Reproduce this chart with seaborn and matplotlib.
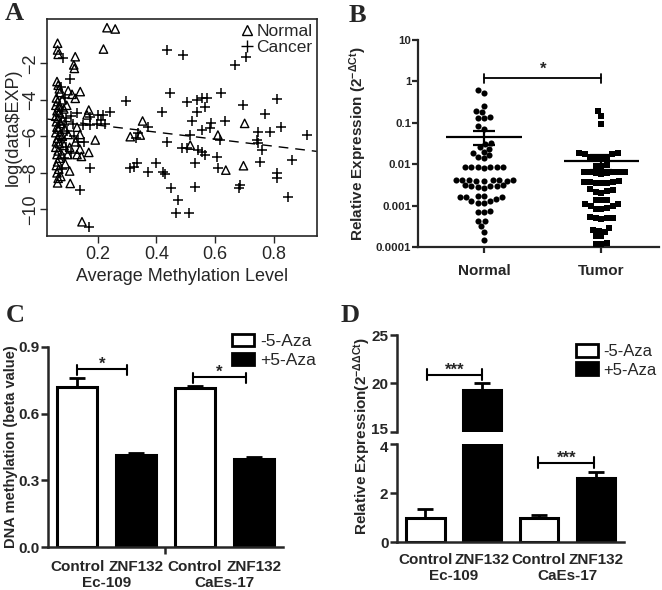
import numpy as np
import pandas as pd
import matplotlib
matplotlib.use("Agg")
import matplotlib.pyplot as plt
import matplotlib.transforms as mtransforms
from matplotlib.lines import Line2D
from matplotlib.patches import Patch
from matplotlib.ticker import NullLocator
import seaborn as sns

# ---------------- A: expression vs methylation
normal_meth = [0.062, 0.066, 0.070, 0.072, 0.060, 0.064, 0.058, 0.068, 0.062, 0.070,
               0.058, 0.066, 0.060, 0.074, 0.062, 0.068, 0.058, 0.072, 0.064, 0.060,
               0.070, 0.058, 0.066, 0.062, 0.070, 0.064, 0.060, 0.068, 0.062, 0.066,
               0.064, 0.080, 0.085, 0.082, 0.088, 0.080, 0.086, 0.078, 0.090, 0.075,
               0.100, 0.095, 0.100, 0.105, 0.098,
               0.232, 0.260, 0.220, 0.064, 0.064, 0.066, 0.124, 0.119, 0.121, 0.113,
               0.141, 0.124, 0.170, 0.164, 0.192, 0.130, 0.140, 0.125, 0.140, 0.130,
               0.170, 0.145, 0.105, 0.107, 0.147, 0.311, 0.353, 0.345, 0.515, 0.609,
               0.636, 0.700, 0.696]
normal_exp = [-3.0, -3.2, -3.4, -3.6, -3.9, -4.1, -4.3, -4.4, -4.6, -4.7,
              -4.9, -5.0, -5.2, -5.3, -5.5, -5.6, -5.8, -5.9, -6.1, -6.3,
              -6.4, -6.6, -6.8, -7.0, -7.2, -7.4, -7.6, -7.8, -8.0, -8.3,
              -8.55, -4.0, -4.5, -5.1, -5.6, -6.0, -6.5, -7.0, -7.5, -8.2,
              -3.5, -4.3, -5.9, -6.6, -7.0,
              -0.05, -0.12, -1.22, -0.90, -1.27, -1.51, -1.64, -2.09, -2.28, -3.70,
              -3.55, -3.92, -4.56, -4.83, -6.20, -5.50, -5.90, -6.30, -6.70, -7.00,
              -6.88, -7.10, -7.90, -8.58, -10.68, -6.02, -5.16, -5.93, -6.48, -5.93,
              -7.85, -5.29, -7.61]
cancer_meth = [0.082, 0.105, 0.075, 0.090, 0.078, 0.092, 0.085, 0.095, 0.078, 0.092,
               0.085, 0.078, 0.110, 0.115, 0.120, 0.110, 0.130, 0.150, 0.135, 0.139,
               0.173, 0.170, 0.173, 0.200, 0.220, 0.243, 0.210, 0.175, 0.198, 0.225,
               0.155, 0.297, 0.309, 0.325,
               0.436, 0.492, 0.447, 0.503, 0.537, 0.554, 0.571, 0.566, 0.537, 0.620,
               0.418, 0.520, 0.515, 0.554, 0.586, 0.583, 0.634, 0.436, 0.486, 0.503,
               0.543, 0.554, 0.566, 0.605, 0.611, 0.530, 0.334, 0.373, 0.398, 0.421,
               0.428, 0.450, 0.532, 0.472, 0.466, 0.511, 0.337, 0.373, 0.330, 0.617,
               0.668, 0.704, 0.810, 0.696, 0.768, 0.747, 0.787, 0.824, 0.911, 0.741,
               0.747, 0.758, 0.860, 0.753, 0.810, 0.810, 0.685, 0.680, 0.849]
cancer_exp = [-1.69, -2.86, -3.3, -3.9, -4.6, -5.0, -5.4, -5.7, -6.2, -6.6,
              -7.2, -7.8, -4.9, -5.3, -6.0, -6.9, -4.7, -5.4, -6.3, -8.94,
              -7.72, -10.95, -4.92, -4.83, -4.83, -4.65, -5.1, -5.4, -5.35, -5.3,
              -6.3, -4.07, -7.72, -7.66,
              -1.27, -1.55, -3.65, -4.14, -4.01, -3.88, -3.88, -4.38, -4.65, -3.65,
              -4.69, -5.16, -5.93, -5.65, -5.29, -5.56, -5.16, -6.33, -6.66, -6.66,
              -6.75, -6.84, -7.02, -7.12, -7.76, -7.48, -7.48, -7.94, -7.48, -7.94,
              -8.08, -8.85, -8.76, -9.49, -10.22, -10.22, -5.84, -5.47, -6.10, -6.20,
              -2.09, -1.64, -3.96, -4.28, -4.80, -5.75, -5.75, -5.47, -5.93, -6.20,
              -6.38, -6.75, -7.30, -7.39, -8.03, -8.30, -8.67, -8.81, -9.31]
fit_intercept = -5.0
fit_slope = -1.93

# ---------------- B: relative expression, normal vs tumor
b_groups = ["Normal", "Tumor"]
normal_rel = [0.62, 0.54, 0.26, 0.19, 0.18, 0.14, 0.13, 0.13, 0.085, 0.072,
              0.033, 0.031, 0.026, 0.024, 0.020, 0.019, 0.017, 0.015, 0.014,
              0.0088, 0.0086, 0.0085, 0.0085, 0.0084, 0.0086, 0.0088,
              0.0042, 0.0041, 0.0040, 0.0041, 0.0043, 0.0040, 0.0039, 0.0041, 0.0042,
              0.0031, 0.0030, 0.0031, 0.0030, 0.0029, 0.0030, 0.0027,
              0.0017, 0.0016, 0.0016, 0.0017, 0.0016, 0.0015,
              0.0013, 0.0012, 0.0013, 0.0012, 0.00072, 0.00075, 0.00070,
              0.00044, 0.00042, 0.00032, 0.00024, 0.00015]
tumor_rel = [0.19, 0.15, 0.095, 0.019, 0.018, 0.019, 0.018, 0.015, 0.015, 0.015, 0.015,
             0.0095, 0.0093, 0.0092,
             0.0066, 0.0062, 0.0064, 0.0065, 0.0065, 0.0064, 0.0060, 0.0063,
             0.0037, 0.0036, 0.0037, 0.0039, 0.0035, 0.0037, 0.0036,
             0.0023, 0.0024, 0.0022, 0.0025, 0.0021, 0.0014, 0.0014, 0.0014,
             0.0011, 0.0010, 0.00085, 0.00085, 0.00090, 0.0010, 0.0011,
             0.00052, 0.00050, 0.00047, 0.00052, 0.00055,
             0.00026, 0.00024, 0.00030, 0.00025, 0.00019, 0.00019,
             0.00013, 0.00012, 0.00012]
b_mean = [0.047, 0.012]
b_sem = [0.017, 0.0045]

# ---------------- C / D: 5-Aza treatment
cell_lines = ["Ec-109", "CaEs-17"]
bar_cell = ["Ec-109", "Ec-109", "CaEs-17", "CaEs-17"]
conditions = ["Control", "ZNF132", "Control", "ZNF132"]
treatment = ["-5-Aza", "+5-Aza", "-5-Aza", "+5-Aza"]
meth_mean = [0.72, 0.415, 0.715, 0.395]
meth_err = [0.038, 0.008, 0.01, 0.01]
expr_mean = [1.0, 19.3, 1.0, 2.6]
expr_err = [0.35, 0.7, 0.1, 0.25]

sns.set_style("ticks")
plt.rcParams["font.family"] = ["Liberation Sans", "DejaVu Sans"]
plt.rcParams["mathtext.fontset"] = "custom"
plt.rcParams["mathtext.rm"] = "Liberation Sans:bold"
plt.rcParams["mathtext.it"] = "Liberation Sans:bold"
plt.rcParams["mathtext.bf"] = "Liberation Sans:bold"

fig = plt.figure(figsize=(6.62, 5.90), dpi=100)

# ======== A
axA = fig.add_axes([0.071, 0.600, 0.4074, 0.3673])
sns.scatterplot(x=normal_meth, y=normal_exp, marker="^", s=36, facecolor="none",
                edgecolor="black", linewidth=1.0, ax=axA)
sns.scatterplot(x=cancer_meth, y=cancer_exp, marker="+", s=52, color="black",
                linewidth=1.1, ax=axA)
axA.axline((0, fit_intercept), slope=fit_slope, color="black", lw=1.0, ls=(0, (7, 5)))
axA.set_xlim(0.028, 0.945)
axA.set_ylim(-11.46, 0.41)
axA.set_xticks([0.2, 0.4, 0.6, 0.8])
axA.set_yticks([-2, -4, -6, -8, -10])
for s in axA.spines.values():
    s.set_visible(True)
    s.set_linewidth(1.2)
axA.tick_params(direction="out", length=5, width=1, labelsize=13, pad=2)
axA.tick_params(axis="y", labelrotation=90, pad=1)
plt.setp(axA.get_yticklabels(), va="center")
axA.set_xlabel("Average Methylation Level", fontsize=13)
axA.set_ylabel("log(data$EXP)", fontsize=13)
axA.xaxis.set_label_coords(0.5, -0.148)
axA.yaxis.set_label_coords(-0.095, 0.5)
handlesA = [Line2D([], [], marker="^", mfc="none", mec="black", ls="", ms=7, mew=1),
            Line2D([], [], marker="+", color="black", ls="", ms=9, mew=1)]
axA.legend(handlesA, ["Normal", "Cancer"], loc="upper right", frameon=False, fontsize=12.5,
           handlelength=0.6, handletextpad=0.25, labelspacing=0.05, borderaxespad=0.15,
           borderpad=0.1)

# ======== B
axB = fig.add_axes([0.6319, 0.5808, 0.3636, 0.3514])
df_b = pd.DataFrame({"group": ["Normal"] * len(normal_rel) + ["Tumor"] * len(tumor_rel),
                     "value": normal_rel + tumor_rel})
sns.swarmplot(data=df_b[df_b.group == "Normal"], x="group", y="value", order=b_groups,
              marker="o", color="black", size=4.4, log_scale=True, ax=axB)
sns.swarmplot(data=df_b[df_b.group == "Tumor"], x="group", y="value", order=b_groups,
              marker="s", color="black", size=4.0, log_scale=True, ax=axB)
axB.hlines(b_mean, [i - 0.32 for i in range(2)], [i + 0.32 for i in range(2)],
           color="black", lw=1.6, zorder=5)
axB.errorbar(range(2), b_mean, yerr=b_sem, fmt="none", ecolor="black", elinewidth=1.6,
             capsize=8, capthick=1.6, zorder=5)
axB.plot([0, 1], [1.23, 1.23], color="black", lw=1.3)
axB.plot([0, 0], [0.93, 1.55], color="black", lw=1.3)
axB.plot([1, 1], [0.93, 1.55], color="black", lw=1.3)
axB.text(0.5, 1.3, "*", ha="center", va="bottom", fontsize=12, fontweight="bold")
axB.set_yscale("log")
axB.set_ylim(1e-4, 10)
axB.set_xlim(-0.56, 1.49)
axB.set_yticks([1e-4, 1e-3, 1e-2, 1e-1, 1, 10])
axB.set_yticklabels(["0.0001", "0.001", "0.01", "0.1", "1", "10"])
axB.yaxis.set_minor_locator(NullLocator())
sns.despine(ax=axB)
for s in ["left", "bottom"]:
    axB.spines[s].set_linewidth(1.6)
axB.tick_params(axis="y", direction="out", length=4, width=1.6, labelsize=8.2, pad=1)
axB.tick_params(axis="x", direction="out", length=4, width=1.6, labelsize=11, pad=8)
for lbl in axB.get_yticklabels() + axB.get_xticklabels():
    lbl.set_fontweight("bold")
axB.set_xlabel("")
axB.set_ylabel(r"Relative Expression (2$^{-\Delta Ct}$)", fontsize=11, fontweight="bold")
axB.yaxis.set_label_coords(-0.205, 0.5)

# ======== C / D shared table
df_cd = pd.DataFrame({"key": [f"{c} {k}" for c, k in zip(bar_cell, conditions)],
                      "treatment": treatment, "meth": meth_mean, "expr": expr_mean})
pal = {"-5-Aza": "white", "+5-Aza": "black"}
legend_handles = [Patch(facecolor="white", edgecolor="black", linewidth=2),
                  Patch(facecolor="black", edgecolor="black", linewidth=2)]


def draw_bars(ax, col, err):
    sns.barplot(data=df_cd, x="key", y=col, hue="treatment", palette=pal, dodge=False,
                width=0.68, edgecolor="black", linewidth=2.2, errorbar=None,
                legend=False, ax=ax)
    ax.errorbar(range(len(df_cd)), df_cd[col], yerr=[np.zeros(len(err)), err], fmt="none",
                ecolor="black", elinewidth=2, capsize=6, capthick=2, zorder=5)
    ax.set_xlim(-0.5, 3.5)
    ax.set_xlabel("")
    ax.set_ylabel("")
    sns.despine(ax=ax)
    for s in ["left", "bottom"]:
        ax.spines[s].set_linewidth(1.8)
    ax.tick_params(axis="y", direction="out", length=5, width=1.8, labelsize=11, pad=1)


def bracket(ax, x0, x1, y, lo, hi, label):
    ax.plot([x0, x1], [y, y], color="black", lw=1.5, clip_on=False)
    ax.plot([x0, x0], [lo, hi], color="black", lw=1.5, clip_on=False)
    ax.plot([x1, x1], [lo, hi], color="black", lw=1.5, clip_on=False)
    ax.annotate(label, xy=((x0 + x1) / 2, y), xytext=(0, -2), textcoords="offset points",
                ha="center", va="bottom", fontsize=12, fontweight="bold")


def cell_labels(ax, pad, offset):
    ax.set_xticks(range(4))
    ax.set_xticklabels(conditions, fontsize=11, fontweight="bold")
    ax.tick_params(axis="x", length=0, pad=pad)
    for i, c in enumerate(cell_lines):
        ax.annotate(c, xy=(2 * i + 0.5, 0), xycoords=("data", "axes fraction"),
                    xytext=(0, offset), textcoords="offset points", ha="center",
                    va="top", fontsize=11, fontweight="bold")


# ======== C
axC = fig.add_axes([0.072, 0.0724, 0.3559, 0.340])
draw_bars(axC, "meth", meth_err)
axC.set_ylim(0, 0.9)
axC.set_yticks([0, 0.3, 0.6, 0.9])
axC.set_yticklabels(["0.0", "0.3", "0.6", "0.9"])
for lbl in axC.get_yticklabels():
    lbl.set_fontweight("bold")
cell_labels(axC, 9.5, -21)
axC.set_xticks([1.5], minor=True)
axC.tick_params(axis="x", which="minor", length=5, width=1.8, direction="out")
bracket(axC, 0, 0.85, 0.798, 0.773, 0.818, "*")
bracket(axC, 1.96, 2.86, 0.762, 0.738, 0.782, "*")
axC.set_ylabel("DNA methylation (beta value)", fontsize=10.5, fontweight="bold")
axC.yaxis.set_label_coords(-0.125, 0.5)
axC.legend(legend_handles, ["-5-Aza", "+5-Aza"], loc="upper left",
           bbox_to_anchor=(0.351, 0.434), bbox_transform=fig.transFigure, frameon=False,
           fontsize=12.5, handlelength=1.25, handleheight=0.7, handletextpad=0.35,
           labelspacing=0.2, borderpad=0, borderaxespad=0)

# ======== D (broken axis)
axDl = fig.add_axes([0.5993, 0.0808, 0.3438, 0.1666])
axDu = fig.add_axes([0.5993, 0.2683, 0.3438, 0.1639], sharex=axDl)
draw_bars(axDl, "expr", expr_err)
draw_bars(axDu, "expr", expr_err)
axDl.set_ylim(0, 4)
axDl.set_yticks([0, 2, 4])
axDu.set_ylim(15, 25)
axDu.set_yticks([15, 20, 25])
axDu.spines["bottom"].set_visible(False)
for lbl in axDl.get_yticklabels() + axDu.get_yticklabels():
    lbl.set_fontweight("bold")
# keep "15" and "4" from touching at the break
lift = mtransforms.ScaledTranslation(0, 2 / 72, fig.dpi_scale_trans)
axDu.get_yticklabels()[0].set_transform(axDu.get_yticklabels()[0].get_transform() + lift)
drop = mtransforms.ScaledTranslation(0, -2 / 72, fig.dpi_scale_trans)
axDl.get_yticklabels()[-1].set_transform(axDl.get_yticklabels()[-1].get_transform() + drop)
cell_labels(axDl, 8, -19)
axDu.tick_params(axis="x", bottom=False, labelbottom=False)
bracket(axDu, 0.03, 1.0, 20.9, 20.35, 21.5, "***")
bracket(axDl, 1.99, 2.97, 3.24, 3.01, 3.48, "***")
fig.text(362 / 662, 1 - 435.7 / 590, r"Relative Expression(2$^{-\Delta\Delta Ct}$)",
         rotation=90, ha="center", va="center", fontsize=11, fontweight="bold")
axDu.legend(legend_handles, ["-5-Aza", "+5-Aza"], loc="upper left",
            bbox_to_anchor=(0.870, 0.417), bbox_transform=fig.transFigure, frameon=False,
            fontsize=12, handlelength=1.3, handleheight=0.8, handletextpad=0.35,
            labelspacing=0.2, borderpad=0, borderaxespad=0)

# panel letters
for letter, (px, py) in zip("ABCD", [(14, 14), (357.7, 16), (15.5, 316), (350, 316)]):
    fig.text(px / 662, 1 - py / 590, letter, family="Liberation Serif", fontweight="bold",
             fontsize=19, ha="center", va="center")

fig.savefig("out.png", dpi=100)
